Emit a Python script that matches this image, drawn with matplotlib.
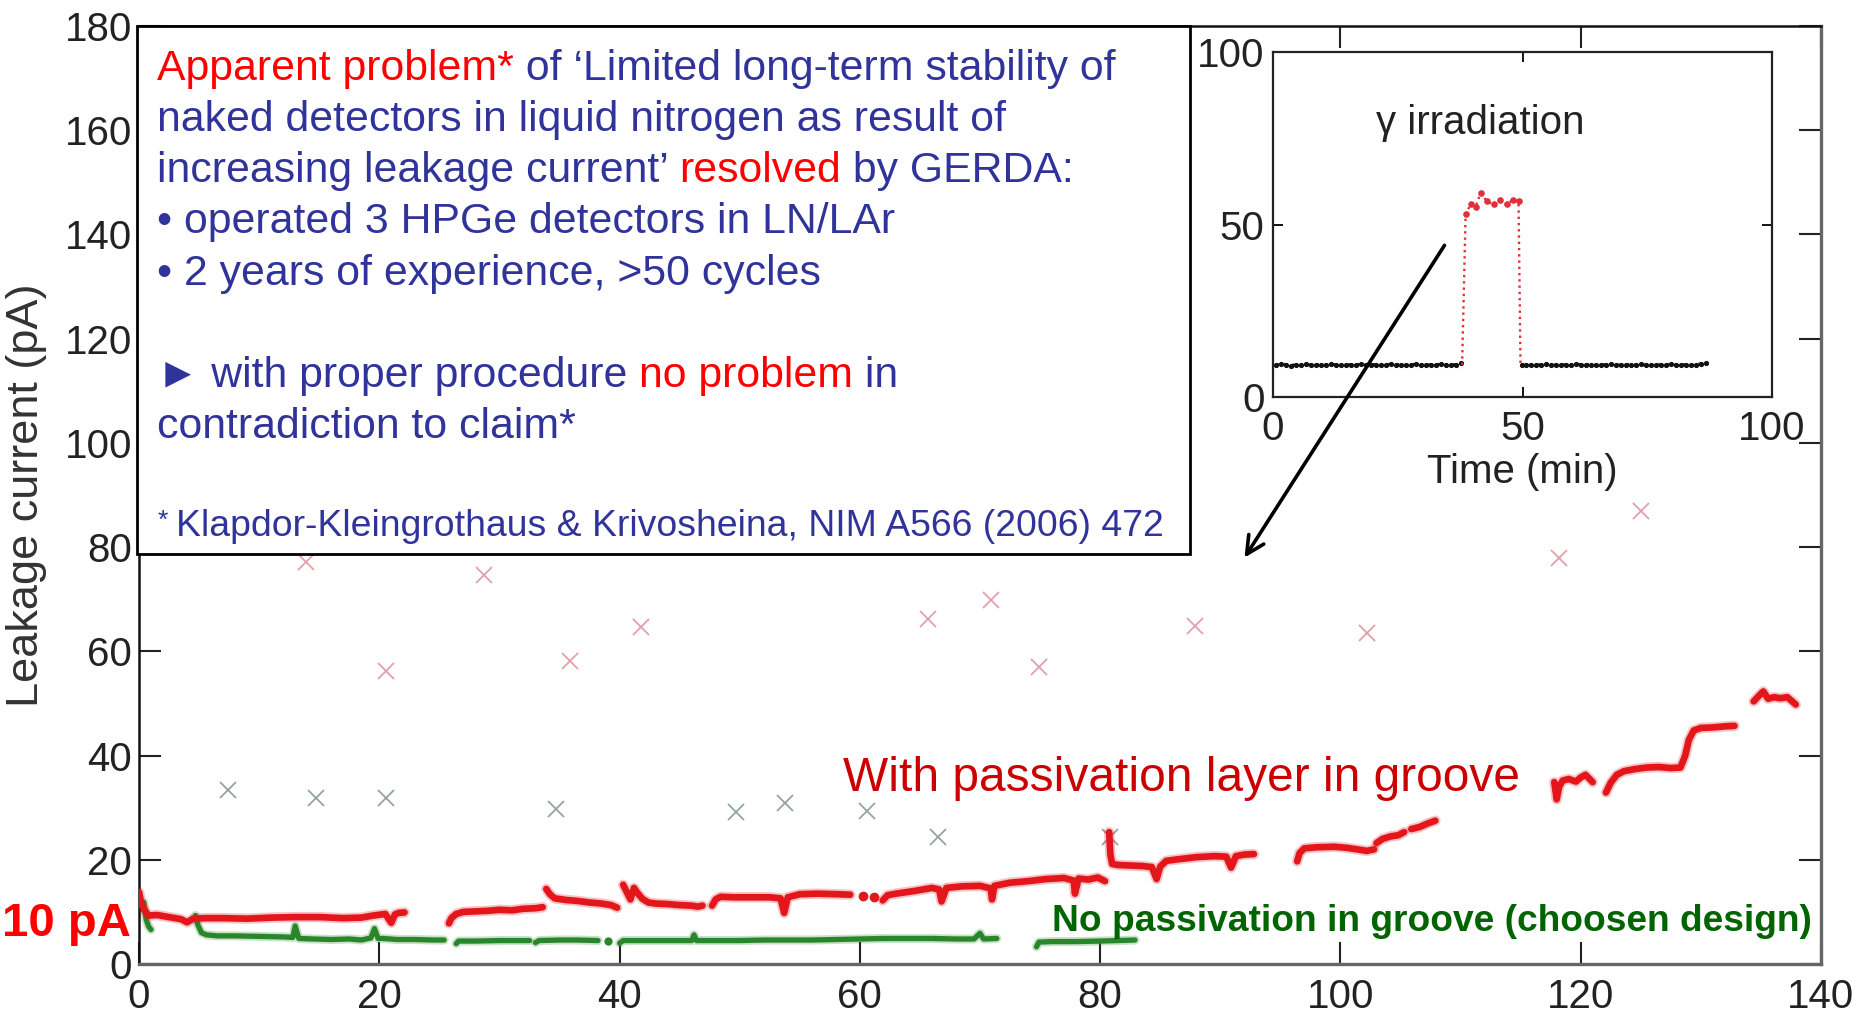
import matplotlib
matplotlib.use("Agg")
import matplotlib.pyplot as plt
from matplotlib.patches import Rectangle, FancyArrowPatch
from matplotlib.font_manager import FontProperties

W, H, DPI = 1863, 1017, 100

# ---------------- long-term leakage current (days vs pA) ----------------
# detector with passivation layer in the groove: one list per run period
red_t = [
    [0.0, 0.2, 0.5, 0.8, 1.5, 2.5, 3.5, 4.0, 4.5, 5.5, 7, 9, 11, 13, 15, 17, 18.5, 19.5, 20.5, 21.0, 21.3, 21.6, 22.1],
    [25.8, 26.0, 26.4, 27.0, 28, 29, 30, 31, 32, 33, 33.6],
    [33.9, 34.2, 34.6, 35.5, 36.5, 37.5, 38.5, 39.3, 39.8],
    [40.3, 40.6, 40.9, 41.2, 41.5, 41.9, 42.4, 43, 44, 45, 46, 46.5, 46.9],
    [47.7, 48.0, 48.4, 49.5, 51, 52.5, 53.4, 53.7, 54.0, 55, 56.5, 58, 59.2],
    [60.3],
    [61.2],
    [61.9, 62.3, 63, 64.5, 66, 66.6, 66.8, 67.2, 68.5, 70, 70.9, 71.0, 71.2, 72.5, 74, 75.5, 77, 77.8, 77.9, 78.2, 79, 79.8, 80.4],
    [80.75, 80.85, 81.0, 81.5, 82.5, 83.5, 84.3, 84.7, 85.0, 85.5, 86.5, 88, 89.5, 90.5, 90.9, 91.3, 92, 92.8],
    [96.4, 96.6, 97.0, 98, 99.5, 100.5, 101.4, 102.2, 102.8],
    [103.0, 103.5, 104.2, 104.8, 105.3],
    [105.9, 106.6, 107.3, 107.9],
    [117.8, 118.0, 118.2, 118.5, 119.0, 119.6, 120.0, 120.4, 121.0],
    [122.1, 122.5, 123.0, 123.6, 124.5, 125.5, 126.5, 127.5, 128.3, 128.7, 129.0, 129.4, 130.0, 131, 132, 132.8],
    [134.4, 134.8, 135.2, 135.6, 136.1, 136.6, 137.2, 137.9],
]
red_i = [
    [13.8, 11.5, 10.2, 9.3, 9.4, 9.0, 8.6, 8.0, 8.7, 8.8, 8.8, 8.7, 8.9, 9.0, 9.0, 8.8, 8.9, 9.3, 9.6, 7.9, 9.5, 9.8, 9.9],
    [7.8, 8.8, 9.6, 10.0, 10.1, 10.2, 10.4, 10.3, 10.6, 10.7, 10.9],
    [14.4, 13.4, 12.6, 12.3, 12.1, 11.8, 11.6, 11.3, 10.8],
    [15.2, 13.8, 12.4, 14.6, 13.6, 12.5, 11.8, 11.6, 11.5, 11.3, 11.2, 11.0, 11.2],
    [11.2, 12.4, 12.9, 12.8, 12.8, 12.8, 12.6, 9.8, 12.8, 13.4, 13.5, 13.4, 13.3],
    [13.0],
    [12.8],
    [12.2, 13.2, 13.5, 14.0, 14.6, 14.3, 12.0, 14.6, 14.9, 15.0, 14.5, 12.4, 15.0, 15.6, 15.9, 16.3, 16.5, 16.0, 13.5, 16.4, 16.2, 16.6, 15.9],
    [25.3, 21.0, 19.2, 19.0, 18.9, 18.8, 18.6, 16.3, 18.7, 19.8, 20.1, 20.5, 20.7, 20.6, 18.5, 20.7, 21.0, 21.1],
    [19.7, 21.3, 22.2, 22.4, 22.5, 22.3, 22.0, 21.7, 22.0],
    [23.2, 24.0, 24.5, 24.7, 25.3],
    [25.9, 26.3, 27.0, 27.5],
    [34.9, 31.6, 34.0, 35.2, 35.5, 35.0, 35.8, 36.3, 34.9],
    [32.9, 34.8, 36.3, 37.0, 37.4, 37.7, 37.8, 37.6, 37.7, 40.0, 43.0, 44.8, 45.3, 45.4, 45.6, 45.7],
    [50.4, 51.4, 52.3, 50.9, 51.2, 51.0, 51.2, 49.8],
]

# detector without passivation in the groove
green_t = [
    [0.0, 0.2, 0.4, 0.6, 0.8, 1.0],
    [4.7, 4.9, 5.2, 5.6, 6.5, 8, 10, 12, 12.8, 13.0, 13.3, 14.5, 16, 17.5, 18.5, 19.3, 19.6, 19.9, 20.3, 21.5, 23, 24.5, 25.4],
    [26.4, 26.6, 28, 30, 32.5],
    [33.0, 33.3, 35, 36.5, 38.2],
    [39.0],
    [40.0, 40.3, 42, 44, 46.0, 46.2, 46.4, 48, 50, 52, 54, 56, 58, 60, 62, 64, 66, 68, 69.5, 70.0, 70.3, 71.4],
    [74.7, 74.9, 76, 78, 80, 81.5, 82.9],
]
green_i = [
    [13.0, 10.5, 11.8, 8.5, 7.2, 6.6],
    [9.3, 7.5, 6.0, 5.6, 5.4, 5.4, 5.3, 5.2, 5.1, 7.3, 4.9, 4.8, 4.7, 4.8, 4.6, 5.0, 6.8, 4.9, 4.9, 4.7, 4.7, 4.6, 4.6],
    [3.9, 4.4, 4.4, 4.5, 4.5],
    [4.1, 4.5, 4.6, 4.6, 4.5],
    [4.5],
    [4.0, 4.5, 4.5, 4.5, 4.5, 5.6, 4.5, 4.5, 4.5, 4.6, 4.6, 4.6, 4.7, 4.8, 4.9, 4.9, 4.9, 4.8, 4.8, 5.9, 4.8, 4.9],
    [3.3, 4.2, 4.3, 4.3, 4.4, 4.5, 4.6],
]

# single measurements of other detectors
gray_x_t = [7.4, 14.7, 20.6, 34.7, 49.7, 53.8, 60.6, 66.5, 80.8]
gray_x_i = [33.3, 31.9, 31.9, 29.8, 29.2, 30.8, 29.4, 24.4, 24.4]
pink_x_t = [13.9, 20.6, 28.7, 35.9, 41.8, 65.7, 70.9, 74.9, 87.9, 102.2, 118.2, 125.0]
pink_x_i = [77.2, 56.3, 74.7, 58.1, 64.7, 66.3, 69.9, 57.0, 64.9, 63.6, 77.9, 87.0]

x_ticks = [0, 20, 40, 60, 80, 100, 120, 140]
y_ticks = [0, 20, 40, 60, 80, 100, 120, 140, 160, 180]

# ---------------- gamma irradiation test (minutes vs pA) ----------------
gamma_before_t = [0.6, 1.6, 2.6, 3.6, 4.6, 5.6, 6.6, 7.6, 8.6, 9.6, 10.6, 11.6, 12.6, 13.6, 14.6, 15.6,
                  16.6, 17.6, 18.6, 19.6, 20.6, 21.6, 22.6, 23.6, 24.6, 25.6, 26.6, 27.6, 28.6, 29.6,
                  30.6, 31.6, 32.6, 33.6, 34.6, 35.6, 36.6, 37.6]
gamma_before_i = [9.2, 9.6, 9.3, 9.1, 9.4, 9.3, 9.5, 9.2, 9.3, 9.4, 9.2, 9.5, 9.3, 9.3, 9.2, 9.4,
                  9.3, 9.5, 9.2, 9.3, 9.4, 9.3, 9.2, 9.5, 9.3, 9.4, 9.2, 9.3, 9.5, 9.3,
                  9.2, 9.4, 9.3, 9.5, 9.3, 9.2, 9.4, 9.8]
gamma_on_t = [37.9, 38.6, 39.6, 40.6, 41.6, 42.9, 44.2, 45.5, 46.8, 48.1, 49.2, 49.6]
gamma_on_i = [9.3, 53.0, 55.8, 55.2, 59.1, 56.7, 55.8, 57.1, 55.8, 57.2, 56.7, 9.3]
gamma_after_t = [49.8, 50.8, 51.8, 52.8, 53.8, 54.8, 55.8, 56.8, 57.8, 58.8, 59.8, 60.8, 61.8, 62.8,
                 63.8, 64.8, 65.8, 66.8, 67.8, 68.8, 69.8, 70.8, 71.8, 72.8, 73.8, 74.8, 75.8,
                 76.8, 77.8, 78.8, 79.8, 80.8, 81.8, 82.8, 83.8, 84.8, 85.8, 86.8]
gamma_after_i = [9.3, 9.2, 9.4, 9.3, 9.3, 9.5, 9.2, 9.3, 9.4, 9.3, 9.2, 9.5, 9.3, 9.4,
                 9.3, 9.2, 9.4, 9.3, 9.5, 9.3, 9.2, 9.4, 9.3, 9.3, 9.5, 9.2, 9.3,
                 9.4, 9.3, 9.2, 9.5, 9.3, 9.4, 9.3, 9.2, 9.4, 9.6, 9.8]
inset_ticks = [0, 50, 100]

# ---------------- styling ----------------
RED_LINE = "#E3161C"
GREEN_LINE = "#2A862A"
BLUE_TXT = "#303399"
RED_TXT = "#FF0000"
TICK_COL = "#222222"

plt.rcParams["font.family"] = ["Liberation Sans", "DejaVu Sans"]

fig = plt.figure(figsize=(W / DPI, H / DPI), dpi=DPI)
fig.patch.set_facecolor("white")


def fx(px):
    return px / W


def fy(py):
    return 1 - py / H


# main axes (pixel box: x 139..1821, y 26..964)
ax = fig.add_axes([fx(139), fy(964), (1821 - 139) / W, (964 - 26) / H], zorder=0)
ax.set_xlim(0, 140)
ax.set_ylim(0, 180)
ax.set_xticks(x_ticks)
ax.set_yticks(y_ticks)
ax.tick_params(direction="in", length=16, width=1.5, top=True, right=True,
               labelsize=29, labelcolor=TICK_COL, color="#222222")
ax.tick_params(axis="x", pad=10)
ax.tick_params(axis="y", pad=5)
for side in ("left", "top"):
    ax.spines[side].set_color("#111111")
    ax.spines[side].set_linewidth(1.8)
for side in ("bottom", "right"):
    ax.spines[side].set_color("#666666")
    ax.spines[side].set_linewidth(2.4)

ax.set_ylabel("Leakage current (pA)", fontsize=32.5, color="#333333")
ax.yaxis.set_label_coords(-0.0547, 0.5)

ax.plot(gray_x_t, gray_x_i, ls="none", marker="x", ms=11, mew=1.3, color="#95A59B", zorder=1)
ax.plot(pink_x_t, pink_x_i, ls="none", marker="x", ms=11, mew=1.3, color="#E3A0AB", zorder=1)

for ts, vs in zip(green_t, green_i):
    if len(ts) == 1:
        ax.plot(ts, vs, ls="none", marker="o", ms=5, color=GREEN_LINE, zorder=2)
    else:
        ax.plot(ts, vs, color=GREEN_LINE, lw=6.5, alpha=0.25, solid_capstyle="round",
                solid_joinstyle="round", zorder=2)
        ax.plot(ts, vs, color=GREEN_LINE, lw=3.8, solid_capstyle="round",
                solid_joinstyle="round", zorder=2)
for ts, vs in zip(red_t, red_i):
    if len(ts) == 1:
        ax.plot(ts, vs, ls="none", marker="o", ms=6, color=RED_LINE, zorder=3)
    else:
        ax.plot(ts, vs, color=RED_LINE, lw=7.5, alpha=0.25, solid_capstyle="round",
                solid_joinstyle="round", zorder=3)
        ax.plot(ts, vs, color=RED_LINE, lw=4.8, solid_capstyle="round",
                solid_joinstyle="round", zorder=3)

# series labels
fig.text(fx(843), fy(791), "With passivation layer in groove", fontsize=34.5,
         color="#CC0000", ha="left", va="baseline", zorder=4)
fig.text(fx(1052), fy(931), "No passivation in groove (choosen design)", fontsize=26.7,
         fontweight="bold", color="#006400", ha="left", va="baseline", zorder=4)
fig.text(fx(2), fy(924), "10 pA", fontsize=34, fontweight="bold", color=RED_TXT,
         ha="left", va="center", zorder=4)

# ---------------- statement box ----------------
fig.add_artist(Rectangle((fx(137), fy(554)), (1190 - 137) / W, (554 - 26) / H,
                         transform=fig.transFigure, facecolor="white",
                         edgecolor="black", linewidth=2.0, zorder=5))

renderer = fig.canvas.get_renderer()


def advance(s, size):
    fp = FontProperties(family=["Liberation Sans", "DejaVu Sans"], size=size)
    w1, _, _ = renderer.get_text_width_height_descent(s + "x", fp, ismath=False)
    w2, _, _ = renderer.get_text_width_height_descent("x", fp, ismath=False)
    return w1 - w2


def rich_line(x_px, base_px, parts, size):
    prefix = ""
    for s, col in parts:
        off = advance(prefix, size) if prefix else 0.0
        fig.text(fx(x_px + off), fy(base_px), s, fontsize=size, color=col,
                 ha="left", va="baseline", zorder=6)
        prefix += s


BOX_FS = 30.75
lines = [
    (80, [("Apparent problem*", RED_TXT), (" of \u2018Limited long-term stability of", BLUE_TXT)]),
    (131, [("naked detectors in liquid nitrogen as result of", BLUE_TXT)]),
    (182, [("increasing leakage current\u2019 ", BLUE_TXT), ("resolved", RED_TXT), (" by GERDA:", BLUE_TXT)]),
    (233, [("\u2022 operated 3 HPGe detectors in LN/LAr", BLUE_TXT)]),
    (285, [("\u2022 2 years of experience, >50 cycles", BLUE_TXT)]),
    (387, [("\u25BA with proper procedure ", BLUE_TXT), ("no problem", RED_TXT), (" in", BLUE_TXT)]),
    (438, [("contradiction to claim*", BLUE_TXT)]),
]
for base, parts in lines:
    rich_line(157, base, parts, BOX_FS)

fig.text(fx(158), fy(528), "*", fontsize=19, color=BLUE_TXT, ha="left",
         va="baseline", zorder=6)
fig.text(fx(176), fy(536), "Klapdor-Kleingrothaus & Krivosheina, NIM A566 (2006) 472",
         fontsize=26.9, color=BLUE_TXT, ha="left", va="baseline", zorder=6)

# ---------------- gamma irradiation inset ----------------
ax_in = fig.add_axes([fx(1273), fy(397), (1772 - 1273) / W, (397 - 52) / H], zorder=7)
ax_in.set_facecolor("white")
ax_in.set_xlim(0, 100)
ax_in.set_ylim(0, 100)
ax_in.set_xticks(inset_ticks)
ax_in.set_yticks(inset_ticks)
ax_in.tick_params(direction="in", length=7, width=1.3, top=True, right=True,
                  labelsize=29, labelcolor=TICK_COL)
ax_in.tick_params(axis="x", pad=9)
ax_in.tick_params(axis="y", pad=6)
for sp in ax_in.spines.values():
    sp.set_color("#222222")
    sp.set_linewidth(1.6)
ax_in.set_xlabel("Time (min)", fontsize=29, color="#222222", labelpad=4)

ax_in.plot(gamma_before_t, gamma_before_i, color="#111111", ls=":", lw=2.2,
           marker=".", ms=5.5)
ax_in.plot(gamma_after_t, gamma_after_i, color="#111111", ls=":", lw=2.2,
           marker=".", ms=5.5)
ax_in.plot(gamma_on_t, gamma_on_i, color="#E0303A", ls=":", lw=1.7)
ax_in.plot(gamma_on_t[1:-1], gamma_on_i[1:-1], color="#E0303A", ls="none",
           marker=".", ms=7.5)
ax_in.text(41.5, 79.5, "\u03b3 irradiation", fontsize=29, color="#222222",
           ha="center", va="center")

# arrow from the inset down to the main plot
fig.add_artist(FancyArrowPatch((fx(1446), fy(243)), (fx(1243), fy(560)),
                               transform=fig.transFigure, arrowstyle="->",
                               mutation_scale=32, linewidth=2.6, color="black",
                               zorder=9))

fig.savefig("out.png", dpi=DPI, facecolor="white")
